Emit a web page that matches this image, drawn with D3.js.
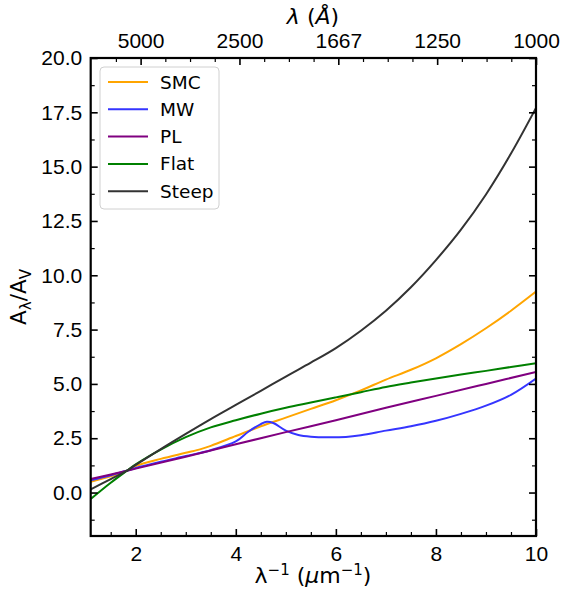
<!DOCTYPE html>
<html>
<head>
<meta charset="utf-8">
<script src="https://cdn.jsdelivr.net/npm/d3@7"></script>
<style>
  body { margin: 0; background: #fff; }
  svg { font-family: "DejaVu Sans", sans-serif; }
  .axis text { font-size: 21px; fill: #000; }
  .axis path { display: none; }
  .axis line { stroke: #000; }
</style>
</head>
<body>
<div id="chart"></div>
<script>
// inverse wavelength grid (um^-1) and curves
const xSmc   = [1.1, 1.5, 1.82, 2.0, 2.5, 3.0, 3.3, 3.5, 4.0, 4.5, 5.0, 5.5, 6.0, 6.5, 7.0, 7.5, 8.0, 8.5, 9.0, 9.5, 10];
const ySmc   = [0.5, 0.75, 1.0, 1.22, 1.55, 1.83, 2.0, 2.15, 2.6, 3.05, 3.45, 3.85, 4.25, 4.7, 5.2, 5.65, 6.18, 6.83, 7.56, 8.37, 9.25];

const xMw    = [1.1, 1.5, 1.82, 2.0, 2.5, 3.0, 3.5, 4.0, 4.25, 4.5, 4.62, 4.75, 5.0, 5.25, 5.5, 5.85, 6.2, 6.5, 7.0, 7.5, 8.0, 8.5, 9.0, 9.5, 10];
const yMw    = [0.57, 0.8, 1.0, 1.13, 1.42, 1.68, 1.95, 2.35, 2.8, 3.15, 3.26, 3.2, 2.85, 2.65, 2.57, 2.54, 2.56, 2.64, 2.85, 3.05, 3.3, 3.62, 4.0, 4.5, 5.25];

const xPl    = [1.1, 1.82, 2, 3, 4, 5, 6, 7, 8, 9, 10];
const yPl    = [0.62, 1.0, 1.1, 1.65, 2.22, 2.78, 3.33, 3.9, 4.45, 5.0, 5.55];

const xFlat  = [1.1, 1.5, 1.82, 2.0, 2.5, 3.0, 3.5, 4.0, 4.5, 5.0, 5.5, 6.0, 6.5, 7.0, 7.5, 8.0, 8.5, 9.0, 9.5, 10];
const yFlat  = [-0.3, 0.45, 1.0, 1.3, 1.98, 2.55, 3.0, 3.33, 3.63, 3.9, 4.14, 4.38, 4.62, 4.86, 5.06, 5.25, 5.43, 5.6, 5.78, 5.95];

const xSteep = [1.1, 1.5, 1.82, 2.0, 2.5, 3.0, 3.5, 4.0, 4.5, 5.0, 5.5, 6.0, 6.5, 7.0, 7.5, 8.0, 8.5, 9.0, 9.5, 10];
const ySteep = [0.15, 0.62, 1.0, 1.27, 2.0, 2.7, 3.38, 4.03, 4.68, 5.34, 5.98, 6.65, 7.45, 8.37, 9.45, 10.7, 12.1, 13.72, 15.6, 17.7];

const seriesNames  = ["SMC", "MW", "PL", "Flat", "Steep"];
const seriesColors = ["#ffa500", "#3535ff", "#800080", "#008000", "#333333"];

const xTicks   = [2, 4, 6, 8, 10];
const topTicks = [2, 4, 6, 8, 10];        // 1e4 / lambda(A)
const yTicks   = [0, 2.5, 5, 7.5, 10, 12.5, 15, 17.5, 20];

const W = 565, H = 593;
const m = {left: 90.7, right: 29, top: 58, bottom: 57};

const svg = d3.select("#chart").append("svg")
    .attr("width", W).attr("height", H);

const x = d3.scaleLinear().domain([1.1, 10]).range([m.left, W - m.right]);
const xTop = d3.scaleLinear().domain([0.99, 10]).range([m.left, W - m.right]);
const y = d3.scaleLinear().domain([-2, 20]).range([H - m.bottom, m.top]);

const series = [
    {xs: xSmc, ys: ySmc},
    {xs: xMw, ys: yMw},
    {xs: xPl, ys: yPl},
    {xs: xFlat, ys: yFlat},
    {xs: xSteep, ys: ySteep}
].map((s, i) => ({
    name: seriesNames[i],
    color: seriesColors[i],
    pts: s.xs.map((v, j) => [v, s.ys[j]])
}));

svg.append("defs").append("clipPath").attr("id", "clip")
    .append("rect")
    .attr("x", m.left).attr("y", m.top)
    .attr("width", W - m.left - m.right).attr("height", H - m.top - m.bottom);

let line = d3.line()
    .x(d => x(d[0]))
    .y(d => y(d[1]))
    .curve(d3.curveCatmullRom.alpha(0.5));

svg.append("g").attr("clip-path", "url(#clip)")
    .selectAll("path")
    .data(series)
    .enter().append("path")
    .attr("d", d => line(d.pts))
    .attr("fill", "none")
    .attr("stroke", d => d.color)
    .attr("stroke-width", 2);

// ticks: inward on every side
const range = (a, b, s) => d3.range(a, b + 1e-9, s);

function drawTicks(makeAxis, transform, major, minor, fmt, pad) {
    svg.append("g").attr("class", "axis").attr("transform", transform)
        .call(makeAxis().tickValues(minor).tickSize(-4).tickFormat(""))
        .selectAll("line").attr("stroke-width", 1.2);
    let g = svg.append("g").attr("class", "axis").attr("transform", transform)
        .call(makeAxis().tickValues(major).tickSize(-7).tickPadding(pad).tickFormat(fmt));
    g.selectAll("line").attr("stroke-width", 1.6);
    return g;
}

const xMinor = range(1.5, 10, 0.5).filter(v => v % 2 !== 0);
const yMinor = range(-1.25, 20, 1.25).filter(v => Math.abs(v / 2.5 - Math.round(v / 2.5)) > 1e-6);

drawTicks(() => d3.axisBottom(x), `translate(0,${H - m.bottom})`, xTicks, xMinor, d3.format("d"), 10);
drawTicks(() => d3.axisTop(xTop), `translate(0,${m.top})`, topTicks, xMinor, d => Math.round(1e4 / d), 10);
drawTicks(() => d3.axisLeft(y), `translate(${m.left},0)`, yTicks, yMinor, d3.format(".1f"), 8.5);
drawTicks(() => d3.axisRight(y), `translate(${W - m.right},0)`, yTicks, yMinor, () => "", 8.5);

// frame
svg.append("rect")
    .attr("x", m.left).attr("y", m.top)
    .attr("width", W - m.left - m.right).attr("height", H - m.top - m.bottom)
    .attr("fill", "none").attr("stroke", "#000").attr("stroke-width", 2.2);

// axis titles
let bt = svg.append("text")
    .attr("x", 313).attr("y", 583)
    .attr("text-anchor", "middle").attr("font-size", 22);
bt.append("tspan").text("λ");
bt.append("tspan").attr("dy", -8).attr("font-size", 15).text("−1");
bt.append("tspan").attr("dy", 8).text(" (");
bt.append("tspan").attr("font-style", "italic").text("μ");
bt.append("tspan").text("m");
bt.append("tspan").attr("dy", -8).attr("font-size", 15).text("−1");
bt.append("tspan").attr("dy", 8).text(")");

let tt = svg.append("text")
    .attr("x", 313).attr("y", 24)
    .attr("text-anchor", "middle").attr("font-size", 22);
tt.append("tspan").attr("font-style", "italic").text("λ");
tt.append("tspan").text(" (");
tt.append("tspan").attr("font-style", "italic").text("Å");
tt.append("tspan").text(")");

let yt = svg.append("text")
    .attr("transform", `translate(26,${(m.top + H - m.bottom) / 2}) rotate(-90)`)
    .attr("text-anchor", "middle").attr("font-size", 21.5);
yt.append("tspan").text("A");
yt.append("tspan").attr("dy", 5).attr("font-size", 15).text("λ");
yt.append("tspan").attr("dy", -5).text("/A");
yt.append("tspan").attr("dy", 5).attr("font-size", 15).text("V");

// legend
const lg = svg.append("g").attr("transform", "translate(100,67)");
lg.append("rect")
    .attr("width", 119).attr("height", 142).attr("rx", 4)
    .attr("fill", "#fff").attr("fill-opacity", 0.8)
    .attr("stroke", "#d0d0d0").attr("stroke-width", 1);
let items = lg.selectAll("g.item").data(series).enter().append("g")
    .attr("transform", (d, i) => `translate(0,${15 + i * 27.3})`);
items.append("line")
    .attr("x1", 8).attr("x2", 48)
    .attr("stroke", d => d.color).attr("stroke-width", 2);
items.append("text")
    .attr("x", 60).attr("y", 6.5)
    .attr("font-size", 18.5)
    .text(d => d.name);
</script>
</body>
</html>
